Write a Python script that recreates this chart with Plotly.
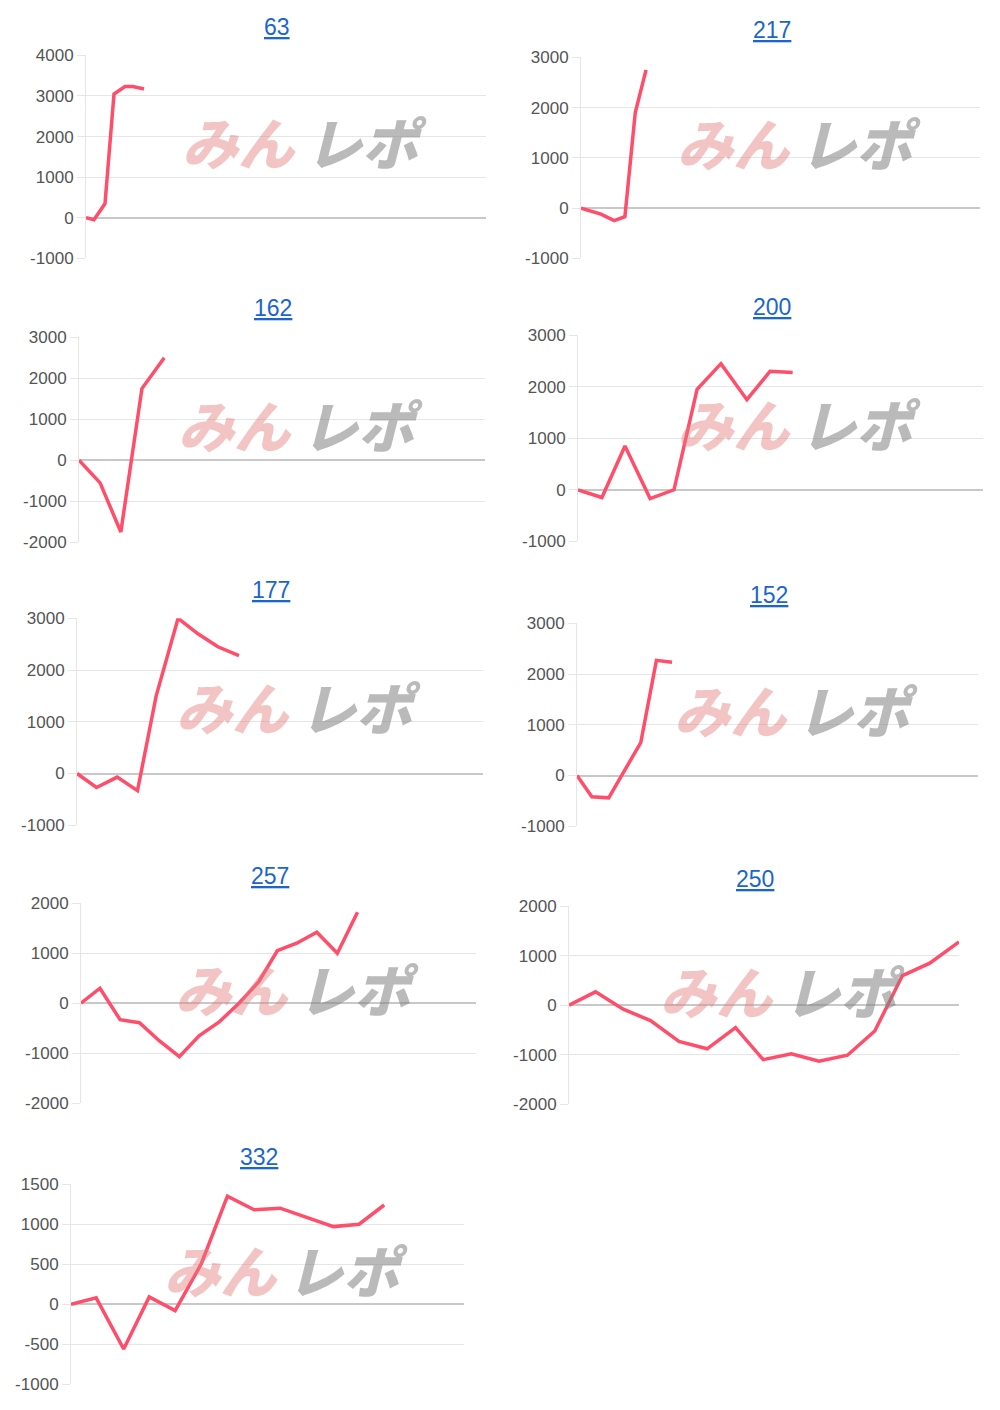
import plotly.graph_objects as go

# chart ids, x positions (share of the run, 0-100) and balance values
titles = ["63", "217", "162", "200", "177", "152", "257", "250", "332"]

x_63 = [0, 2, 4.75, 7, 9.75, 11.75, 14.5]
y_63 = [0, -50, 350, 3050, 3230, 3230, 3170]

x_217 = [0, 5, 8.3, 11, 13.6, 16.3]
y_217 = [0, -120, -250, -170, 1900, 2750]

x_162 = [0, 5.2, 10.3, 15.5, 21]
y_162 = [0, -550, -1750, 1750, 2500]

x_200 = [0, 5.9, 11.6, 17.8, 23.7, 29.4, 35.3, 41.7, 47.4, 53]
y_200 = [0, -150, 850, -170, 0, 1950, 2450, 1750, 2300, 2280]

x_177 = [0, 4.8, 9.9, 14.9, 19.5, 24.9, 29.8, 34.7, 39.9]
y_177 = [0, -270, -70, -330, 1500, 3000, 2700, 2450, 2280]

x_152 = [0, 3.7, 7.9, 15.9, 19.8, 23.7]
y_152 = [0, -420, -440, 650, 2270, 2230]

x_257 = [0, 4.8, 9.9, 14.8, 19.8, 24.9, 29.9, 34.9, 40, 45, 49.7, 54.6, 59.7, 64.9, 70]
y_257 = [0, 300, -330, -390, -750, -1070, -650, -380, 0, 430, 1050, 1200, 1420, 1000, 1820]

x_250 = [0, 6.8, 13.9, 20.9, 28.2, 35.4, 42.7, 49.8, 57, 64.1, 71.4, 78.4, 85.5, 92.5, 100]
y_250 = [0, 270, -80, -310, -730, -880, -450, -1100, -980, -1130, -1010, -520, 600, 850, 1280]

x_332 = [0, 6.4, 13.4, 19.9, 26.5, 33.1, 39.8, 46.6, 53.2, 60, 66.8, 73.3, 79.7]
y_332 = [0, 80, -560, 90, -80, 500, 1350, 1180, 1200, 1080, 970, 1000, 1240]

series = [(x_63, y_63), (x_217, y_217), (x_162, y_162), (x_200, y_200), (x_177, y_177),
          (x_152, y_152), (x_257, y_257), (x_250, y_250), (x_332, y_332)]
y_ranges = [(-1000, 4000, 1000), (-1000, 3000, 1000), (-2000, 3000, 1000),
            (-1000, 3000, 1000), (-1000, 3000, 1000), (-1000, 3000, 1000),
            (-2000, 2000, 1000), (-2000, 2000, 1000), (-1000, 1500, 500)]

# plot boxes in page pixels: left, right, top, bottom, title y
OFF = 8  # body margin of the page
W, H = 1000 - 2 * OFF, 1410 - 2 * OFF
boxes = [
    (86, 486, 55, 258, 27), (581, 980, 57, 258, 30),
    (79, 485, 337, 542, 308), (578, 983, 335, 541, 307),
    (77, 483, 618, 825, 590), (577, 978, 623, 826, 595),
    (81, 476, 903, 1103, 876), (569, 959, 906, 1104, 879),
    (71, 464, 1184, 1384, 1157),
]


def px_x(v):
    return (v - OFF) / W


def px_y(v):
    v = 55 + (v - 63) / 0.9865  # calibrated vertical correction
    return 1 - (v - OFF) / H


fig = go.Figure()
annotations = []
for i, ((xs, ys), (lo, hi, dt), (l, r, t, b, ty)) in enumerate(zip(series, y_ranges, boxes)):
    n = "" if i == 0 else str(i + 1)
    ticks = list(range(lo, hi + 1, dt))
    fig.add_trace(go.Scatter(x=xs, y=ys, mode="lines", xaxis="x" + n, yaxis="y" + n,
                             line=dict(color="#ff4d6a", width=3.5), hoverinfo="skip"))
    fig.update_layout(**{
        "xaxis" + n: dict(domain=[px_x(l), px_x(r)], range=[0, 100], showgrid=False,
                          showticklabels=False, zeroline=False, showline=False,
                          anchor="y" + n, fixedrange=True),
        "yaxis" + n: dict(domain=[px_y(b), px_y(t)], range=[lo, hi],
                          tickvals=ticks, ticktext=[str(v) for v in ticks],
                          anchor="x" + n, gridcolor="#e6e6e6", zerolinecolor="#c8c8c8",
                          zerolinewidth=1.5, showline=True, linecolor="#e6e6e6",
                          ticks="outside", ticklen=8, tickcolor="#e6e6e6",
                          tickfont=dict(size=17, color="#555"), fixedrange=True),
    })
    annotations.append(dict(text="<u>" + titles[i] + "</u>", x=px_x((l + r) / 2 - 9),
                            y=px_y(ty), xref="paper", yref="paper", showarrow=False,
                            xanchor="center", yanchor="middle",
                            font=dict(size=23, color="#1a66cc")))
    # watermark logo
    cy = px_y((t + b) / 2 - 16)
    cx = px_x((l + r) / 2 + 15)
    annotations.append(dict(text="<i>みん</i>", x=cx - 0.003, y=cy, xref="paper",
                            yref="paper", showarrow=False, xanchor="right", yanchor="middle",
                            font=dict(size=56, color="rgba(228,125,125,0.45)",
                                      family="Noto Sans CJK JP", weight=900)))
    annotations.append(dict(text="<i>レポ</i>", x=cx + 0.003, y=cy, xref="paper",
                            yref="paper", showarrow=False, xanchor="left", yanchor="middle",
                            font=dict(size=56, color="rgba(130,130,130,0.55)",
                                      family="Noto Sans CJK JP", weight=900)))

fig.update_layout(width=W, height=H, margin=dict(l=0, r=0, t=0, b=0),
                  paper_bgcolor="white", plot_bgcolor="white", showlegend=False,
                  font=dict(family="Liberation Sans, Arial"), annotations=annotations)
fig.write_html("out.html")
